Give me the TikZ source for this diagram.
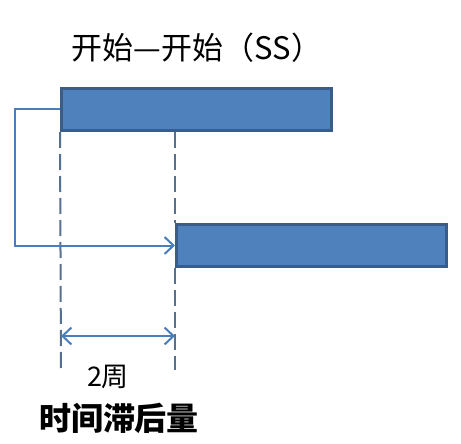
\documentclass[tikz,border=0pt]{standalone}
\usepackage{fontspec}
\newfontfamily\cjk{Noto Sans CJK SC}
\usetikzlibrary{arrows.meta}
\definecolor{barfill}{HTML}{4F81BD}
\definecolor{barline}{HTML}{385D8A}
\definecolor{linkline}{HTML}{4A7EBB}
\definecolor{guideline}{HTML}{56708F}
\tikzset{
  bar/.style={draw=barline,line width=3pt,fill=barfill,minimum width=270pt,minimum height=42pt,inner sep=0pt},
  link/.style={draw=linkline,line width=2pt},
  barb/.tip={Straight Barb[length=9pt,width=17pt]},
  guide/.style={draw=guideline,line width=2pt,dash pattern=on 16pt off 6pt},
}
\begin{document}
\begin{tikzpicture}[x=1pt,y=-1pt]
\useasboundingbox[fill=white] (0,0) rectangle (461,444);
\node[font=\cjk\fontsize{31}{31}\selectfont] (title) at (197,48) {开始—开始（SS）};
\node[bar] (bar1) at (196.5,109.5) {};
\node[bar] (bar2) at (311.5,245.5) {};
\coordinate (g1) at (61,370);
\coordinate (g2) at (175,370);
\draw[guide] (bar1.south west) -- (g1);
\draw[guide] (bar1.south west -| bar2.west) -- (bar2.north west);
\draw[guide] (bar2.south west) -- (g2);
\draw[link,-barb] (bar1.west) -- ++(-45,0) |- (bar2.west);
% dimension
\coordinate (d1) at (61,336);
\coordinate (d2) at (175,336);
\draw[link,barb-barb] (d1) -- (d2);
\node[font=\cjk\fontsize{27}{27}\selectfont] (weeks) at (108,377) {2周};
\node[font=\cjk\bfseries\fontsize{32}{32}\selectfont] (lag) at (119,418) {时间滞后量};
\end{tikzpicture}
\end{document}
